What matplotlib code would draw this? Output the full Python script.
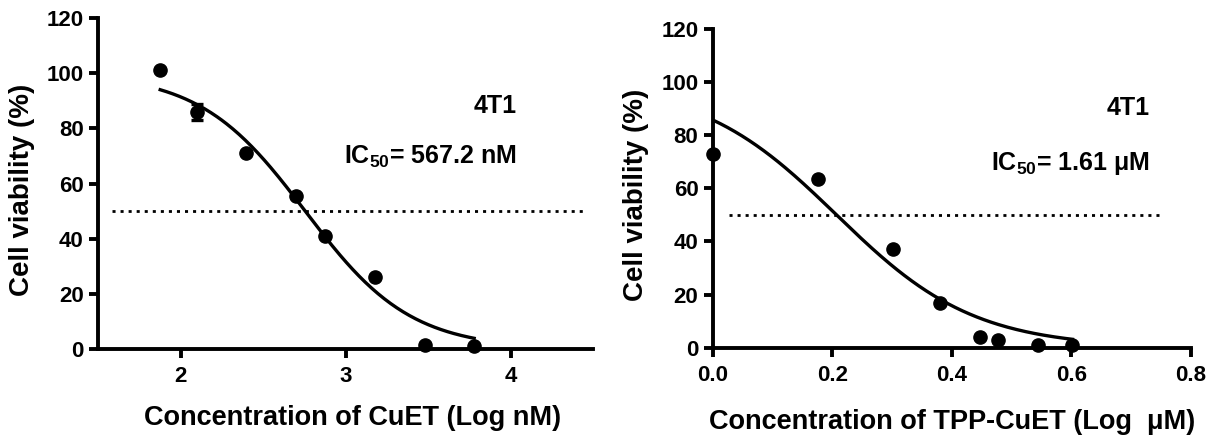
import numpy as np
import matplotlib
matplotlib.use('Agg')
import matplotlib.pyplot as plt

plt.rcParams['font.family'] = ['Liberation Sans', 'DejaVu Sans']
plt.rcParams['font.weight'] = 'bold'
plt.rcParams['mathtext.fontset'] = 'custom'
plt.rcParams['mathtext.rm'] = 'Liberation Sans:bold'
plt.rcParams['mathtext.default'] = 'rm'

# 数据: CuET (log nM)
x_cuet = [1.875, 2.097, 2.398, 2.699, 2.875, 3.176, 3.477, 3.778]
y_cuet = [101.0, 86.0, 71.2, 55.5, 40.8, 26.0, 1.6, 1.0]
err_cuet = [0, 3.0, 0, 0, 0, 0, 0, 0]
# 拟合参数 (top, bottom, logIC50, hill)
fit_cuet = (100.0, 0.0, np.log10(567.2), 1.36)

# 数据: TPP-CuET (log uM)
x_tpp = [0.0, 0.176, 0.301, 0.380, 0.447, 0.477, 0.544, 0.602]
y_tpp = [73.1, 63.7, 37.2, 17.0, 3.9, 2.8, 1.2, 1.0]
err_tpp = [0, 0, 0, 0, 0, 0, 0, 0]
fit_tpp = (100.0, 0.0, np.log10(1.61), 3.76)


def logistic(x, p):
    top, bottom, logic50, hill = p
    return bottom + (top - bottom) / (1 + 10 ** ((x - logic50) * hill))


def draw(ax, x, y, err, p, xlim, xticks, ticklabels, dotx, xlabel, ic50_text, txt_pos,
         xlab_pos, ylab_pos):
    xs = np.linspace(min(x), max(x), 200)
    ax.plot(xs, logistic(xs, p), color='black', lw=2.4, zorder=2)
    ax.errorbar(x, y, yerr=err, fmt='o', color='black', ms=9.5, capsize=4.5,
                elinewidth=2.4, capthick=2.4, clip_on=False, zorder=3)
    ax.plot(dotx, [50, 50], color='black', lw=2.0, dashes=(1.1, 1.8))
    ax.set_xlim(xlim)
    ax.set_ylim(0, 120)
    ax.set_xticks(xticks)
    ax.set_xticklabels(ticklabels)
    ax.set_yticks(range(0, 121, 20))
    for s in ['top', 'right']:
        ax.spines[s].set_visible(False)
    for s in ['left', 'bottom']:
        ax.spines[s].set_linewidth(2.8)
    ax.tick_params(width=2.8, length=6.5, labelsize=16)
    ax.tick_params(axis='x', pad=6)
    ax.tick_params(axis='y', pad=4)
    ax.set_xlabel(xlabel, fontsize=19.5, fontweight='bold')
    ax.set_ylabel('Cell viability (%)', fontsize=20, fontweight='bold')
    ax.xaxis.set_label_coords(*xlab_pos)
    ax.yaxis.set_label_coords(*ylab_pos)
    ax.xaxis.label.set_va('center')
    ax.yaxis.label.set_va('center')
    ax.text(txt_pos[0], txt_pos[1], '4T1', fontsize=18, fontweight='bold', ha='right', va='center')
    ax.text(txt_pos[0], txt_pos[2], ic50_text, fontsize=18, fontweight='bold', ha='right', va='center')


fig = plt.figure(figsize=(12.17, 4.36), dpi=100)
ax1 = fig.add_axes([0.0808, 0.1995, 0.4067, 0.7592])
ax2 = fig.add_axes([0.5859, 0.2025, 0.3925, 0.731])

draw(ax1, x_cuet, y_cuet, err_cuet, fit_cuet, (1.5, 4.5), [2, 3, 4], ['2', '3', '4'],
     [1.58, 4.45], 'Concentration of CuET (Log nM)', r'IC$_{50}$= 567.2 nM',
     (4.036, 88.1, 69.7), (0.514, -0.208), (-0.154, 0.482))
draw(ax2, x_tpp, y_tpp, err_tpp, fit_tpp, (0, 0.8), [0, 0.2, 0.4, 0.6, 0.8],
     ['0.0', '0.2', '0.4', '0.6', '0.8'], [0.026, 0.752],
     'Concentration of TPP-CuET (Log  μM)', r'IC$_{50}$= 1.61 μM',
     (0.732, 90.1, 69.4), (0.5, -0.232), (-0.161, 0.479))

fig.savefig('out.png', dpi=100)
